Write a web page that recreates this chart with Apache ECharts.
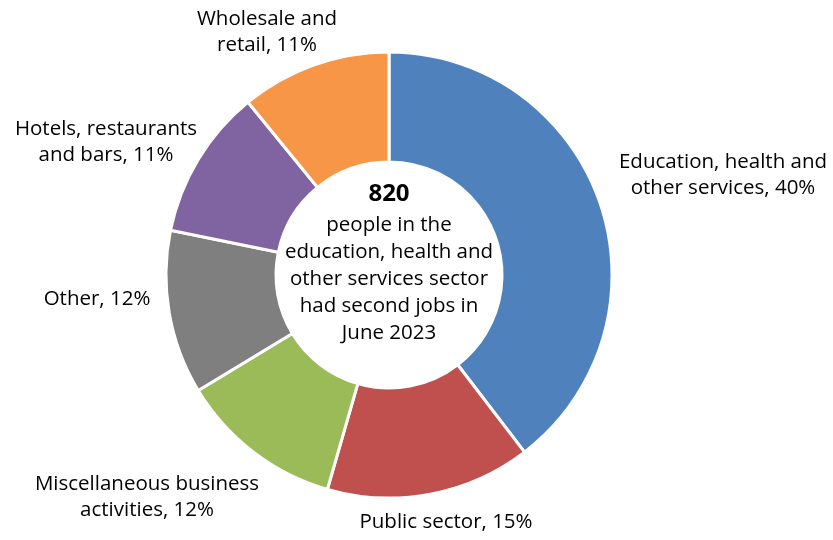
<!DOCTYPE html>
<html>
<head>
<meta charset="utf-8">
<script src="https://cdn.jsdelivr.net/npm/echarts@6/dist/echarts.min.js"></script>
<style>
  html, body { margin: 0; padding: 0; background: #fff; }
  #chart { width: 833px; height: 540px; }
</style>
</head>
<body>
<div id="chart"></div>
<script>
// Second jobs by industry sector, June 2023 (share of people, %)
const categories = [
  'Education, health and\nother services',
  'Public sector',
  'Miscellaneous business\nactivities',
  'Other',
  'Hotels, restaurants\nand bars',
  'Wholesale and\nretail'
];
const shares = [40, 15, 12, 12, 11, 11];
const colors = ['#4F81BD', '#C0504D', '#9BBB59', '#7F7F7F', '#8064A2', '#F79646'];

const headline = '820';
const headlineText = ['people in the', 'education, health and', 'other services sector', 'had second jobs in', 'June 2023'];

// Label anchor points (centre of each text block), in pixels
const labelAnchors = [[723, 175], [446, 522], [147, 497], [97, 299], [106, 142], [267, 32]];

const FONT = '"Open Sans", Lato, sans-serif';
const chart = echarts.init(document.getElementById('chart'), null, { renderer: 'canvas' });

chart.setOption({
  animation: false,
  backgroundColor: '#ffffff',
  series: [{
    type: 'pie',
    center: [389, 275],
    radius: [113, 223],
    startAngle: 90,
    clockwise: true,
    avoidLabelOverlap: false,
    itemStyle: { borderColor: '#ffffff', borderWidth: 3 },
    label: {
      show: true,
      position: 'outside',
      formatter: p => p.name + ', ' + p.value + '%',
      color: '#000000',
      fontFamily: FONT,
      fontSize: 20.5,
      lineHeight: 26,
      align: 'center'
    },
    labelLine: { show: false },
    labelLayout: params => {
      const a = labelAnchors[params.dataIndex];
      return { x: a[0], y: a[1], align: 'center', verticalAlign: 'middle' };
    },
    emphasis: { disabled: true },
    data: categories.map((c, i) => ({ name: c, value: shares[i], itemStyle: { color: colors[i] } }))
  }],
  graphic: [{
    type: 'text',
    x: 389,
    y: 262,
    style: {
      text: '{b|' + headline + '}\n' + headlineText.map(t => '{t|' + t + '}').join('\n'),
      align: 'center',
      verticalAlign: 'middle',
      fill: '#000000',
      rich: {
        b: { fontFamily: FONT, fontSize: 24, fontWeight: 'bold', lineHeight: 34, align: 'center' },
        t: { fontFamily: FONT, fontSize: 20.5, lineHeight: 27, align: 'center' }
      }
    }
  }]
});
</script>
</body>
</html>
